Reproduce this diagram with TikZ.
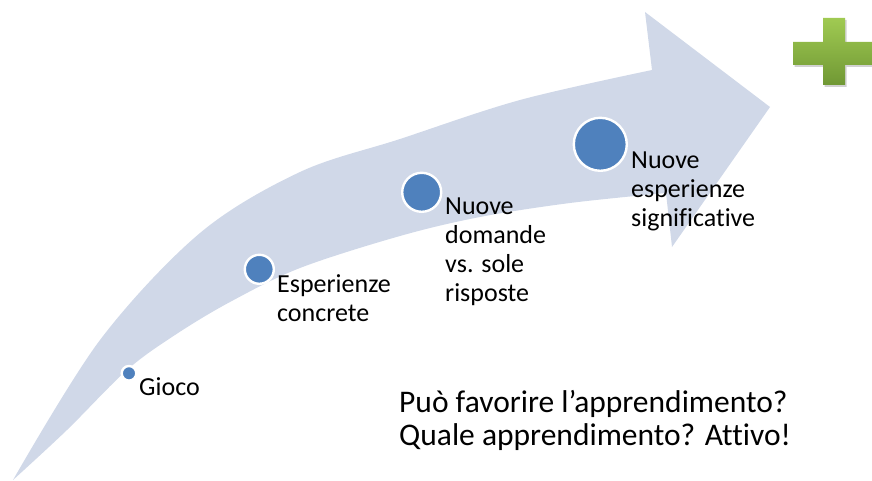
\documentclass[tikz,border=0pt]{standalone}
\usepackage{fontspec}
\setmainfont{Carlito}[Ligatures=NoCommon]
\definecolor{band}{RGB}{208,216,232}
\definecolor{dot}{RGB}{79,129,189}
\definecolor{plustop}{RGB}{160,202,82}
\definecolor{plusbot}{RGB}{112,152,52}
\begin{document}
\begin{tikzpicture}[x=1pt,y=-1pt,
  dotc/.style={circle,fill=dot,draw=white,line width=2.4pt,inner sep=0pt},
  lbl/.style={anchor=base west,inner sep=0pt,align=left,font=\fontsize{26}{28.7}\selectfont},
  big/.style={anchor=base west,inner sep=0pt,align=left,font=\fontsize{31.5}{33}\selectfont}]
\useasboundingbox (0,0) rectangle (872,481);
% curved arrow
\fill[band] plot[smooth,tension=0.55] coordinates {(13,480) (100,340) (200,233) (300,172) (400,139) (520,100) (652,70)}
  -- (645,12) -- (770,107) -- (672,247) -- (666,193)
  -- plot[smooth,tension=0.55] coordinates {(666,193) (570,203) (480,217) (400,236) (300,268) (230,302) (175,335) (127,370) (67,430) (13,480)}
  -- cycle;
% plus sign
\begin{scope}
\clip (0,0) rectangle (872,481);
\fill[black,opacity=0.18] (824.5,20) -- (846.5,20) -- (846.5,44) -- (877,44) -- (877,67) -- (846.5,67) -- (846.5,87) -- (824.5,87) -- (824.5,67) -- (794.5,67) -- (794.5,44) -- (824.5,44) -- cycle;
\shade[top color=plustop,bottom color=plusbot] (823,18) -- (845,18) -- (845,42) -- (876,42) -- (876,65) -- (845,65) -- (845,85) -- (823,85) -- (823,65) -- (793,65) -- (793,42) -- (823,42) -- cycle;
\end{scope}
% dots
\node[dotc,minimum size=14.6pt] (c1) at (129,373.3) {};
\node[dotc,minimum size=29pt] (c2) at (259.3,269.3) {};
\node[dotc,minimum size=39pt] (c3) at (421.7,192.3) {};
\node[dotc,minimum size=53pt] (c4) at (600.3,144.3) {};
% labels (anchor = baseline of last line)
\node[lbl] (t1) at (139,395) {Gioco};
\node[lbl] (t2) at (277,321) {Esperienze\\concrete};
\node[lbl] (t3) at (445,301) {Nuove\\domande\\vs. sole\\risposte};
\node[lbl] (t4) at (631,226) {Nuove\\esperienze\\significative};
\node[big] (q) at (399,445) {Può favorire l’apprendimento?\\Quale apprendimento? Attivo!};
\end{tikzpicture}
\end{document}
